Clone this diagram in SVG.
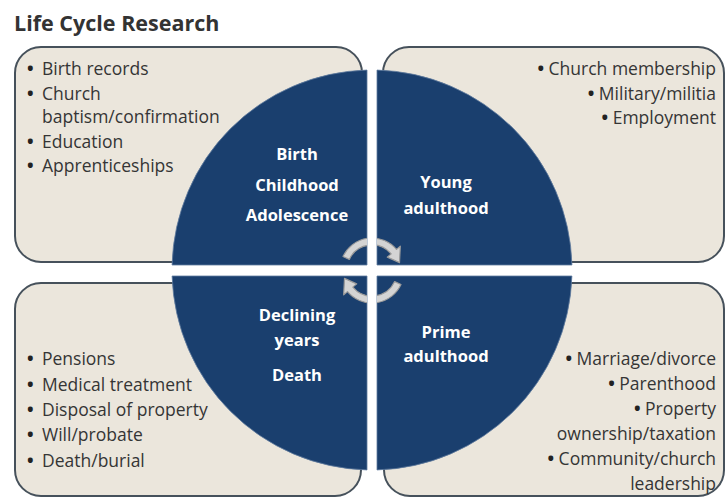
<svg xmlns="http://www.w3.org/2000/svg" width="726" height="499" viewBox="0 0 726 499">
  <style>
    .box { fill: #ebe6dc; stroke: #46515b; stroke-width: 2; }
    .quad { fill: #1a3f6e; stroke: #5f7b9e; stroke-width: 0.8; }
    .item { font-family: "Open Sans", "Liberation Sans", sans-serif; font-size: 17.5px; fill: #353535; }
    .b { font-weight: bold; fill: #222222; }
    .r { text-anchor: end; }
    .lbl { font-family: "Open Sans", "Liberation Sans", sans-serif; font-size: 16.5px; font-weight: bold; fill: #ffffff; text-anchor: middle; }
    .title { font-family: "Open Sans", "Liberation Sans", sans-serif; font-size: 21.5px; font-weight: bold; fill: #333333; }
    .arrow { fill: #d4d4d4; stroke: #9a9a9a; stroke-width: 1.2; stroke-linejoin: round; }
  </style>
  <defs>
    <clipPath id="gapclip">
      <rect x="0" y="0" width="367" height="265"/>
      <rect x="377" y="0" width="349" height="265"/>
      <rect x="0" y="276" width="367" height="223"/>
      <rect x="377" y="276" width="349" height="223"/>
    </clipPath>
  </defs>
  <rect x="0" y="0" width="726" height="499" fill="#ffffff"/>

  <g id="title">
    <text class="title" x="14" y="31">Life Cycle Research</text>
  </g>

  <g id="box-early">
    <rect class="box" x="15" y="47" width="347" height="215" rx="26"/>
    <text class="item" y="75"><tspan class="b" x="27">•</tspan><tspan x="42">Birth records</tspan></text>
    <text class="item" y="100"><tspan class="b" x="27">•</tspan><tspan x="42">Church</tspan></text>
    <text class="item" x="42" y="123">baptism/confirmation</text>
    <text class="item" y="148"><tspan class="b" x="27">•</tspan><tspan x="42">Education</tspan></text>
    <text class="item" y="172"><tspan class="b" x="27">•</tspan><tspan x="42">Apprenticeships</tspan></text>
  </g>

  <g id="box-young">
    <rect class="box" x="383" y="47" width="341" height="215" rx="26"/>
    <text class="item r" x="716" y="75"><tspan class="b">•</tspan> Church membership</text>
    <text class="item r" x="716" y="100"><tspan class="b">•</tspan> Military/militia</text>
    <text class="item r" x="716" y="124"><tspan class="b">•</tspan> Employment</text>
  </g>

  <g id="box-declining">
    <rect class="box" x="15" y="283" width="346" height="213" rx="26"/>
    <text class="item" y="365"><tspan class="b" x="27">•</tspan><tspan x="42">Pensions</tspan></text>
    <text class="item" y="391"><tspan class="b" x="27">•</tspan><tspan x="42">Medical treatment</tspan></text>
    <text class="item" y="416"><tspan class="b" x="27">•</tspan><tspan x="42">Disposal of property</tspan></text>
    <text class="item" y="441"><tspan class="b" x="27">•</tspan><tspan x="42">Will/probate</tspan></text>
    <text class="item" y="467"><tspan class="b" x="27">•</tspan><tspan x="42">Death/burial</tspan></text>
  </g>

  <g id="box-prime">
    <rect class="box" x="384" y="283" width="340" height="213" rx="26"/>
    <text class="item r" x="716" y="365"><tspan class="b">•</tspan> Marriage/divorce</text>
    <text class="item r" x="716" y="390"><tspan class="b">•</tspan> Parenthood</text>
    <text class="item r" x="716" y="415"><tspan class="b">•</tspan> Property</text>
    <text class="item r" x="716" y="440">ownership/taxation</text>
    <text class="item r" x="716" y="465"><tspan class="b">•</tspan> Community/church</text>
    <text class="item r" x="716" y="490">leadership</text>
  </g>

  <g id="quad-birth">
    <path class="quad" d="M367 265 L367 70.06 A200 200 0 0 0 172.06 265 Z"/>
    <text class="lbl" x="297" y="160">Birth</text>
    <text class="lbl" x="297" y="191">Childhood</text>
    <text class="lbl" x="297" y="221">Adolescence</text>
  </g>

  <g id="quad-young">
    <path class="quad" d="M377 265 L571.94 265 A200 200 0 0 0 377 70.06 Z"/>
    <text class="lbl" x="446" y="188">Young</text>
    <text class="lbl" x="446" y="214">adulthood</text>
  </g>

  <g id="quad-prime">
    <path class="quad" d="M377 276 L377 469.94 A200 200 0 0 0 571.91 276 Z"/>
    <text class="lbl" x="446" y="338">Prime</text>
    <text class="lbl" x="446" y="362">adulthood</text>
  </g>

  <g id="quad-declining">
    <path class="quad" d="M367 276 L172.09 276 A200 200 0 0 0 367 469.94 Z"/>
    <text class="lbl" x="297" y="321">Declining</text>
    <text class="lbl" x="297" y="346">years</text>
    <text class="lbl" x="297" y="381">Death</text>
  </g>

  <g id="connectors" clip-path="url(#gapclip)">
    <path class="arrow" d="M343 256.5 A32 32 0 0 1 396.5 249.4 L400.3 246.2 L399.5 262.6 L387.3 257.1 L391.2 253.9 A25 25 0 0 0 349.35 259.4 Z"/>
    <path class="arrow" d="M401 284.5 A32 32 0 0 1 347.5 291.6 L343.7 294.8 L344.5 278.4 L356.7 283.9 L352.8 287.1 A25 25 0 0 0 394.65 281.6 Z"/>
  </g>
</svg>
